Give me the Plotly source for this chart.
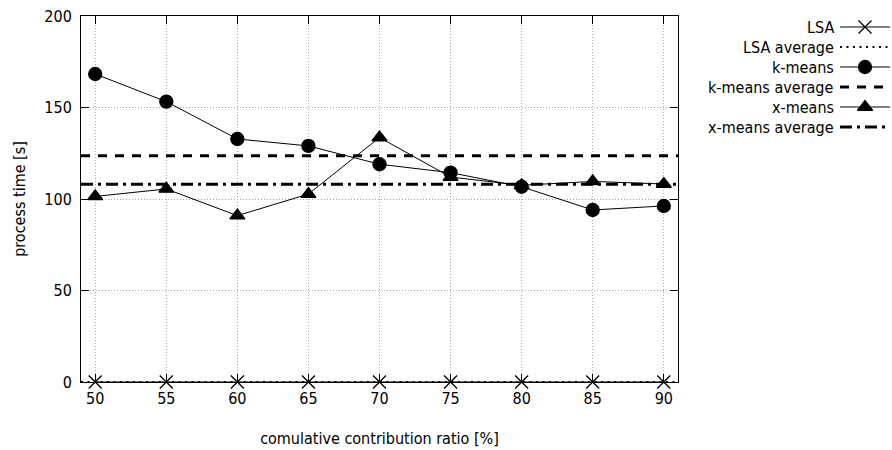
import plotly.graph_objects as go

# ---- data ----
ratio = [50, 55, 60, 65, 70, 75, 80, 85, 90]
lsa = [0, 0, 0, 0, 0, 0, 0, 0, 0]
kmeans = [168.3, 153.2, 132.8, 129.0, 119.0, 114.4, 106.7, 94.0, 96.2]
xmeans = [101.4, 105.5, 90.9, 102.7, 133.6, 112.0, 107.5, 109.6, 108.2]
lsa_avg = 0.0
kmeans_avg = 123.7
xmeans_avg = 108.0
x_ticks = [50, 55, 60, 65, 70, 75, 80, 85, 90]
y_ticks = [0, 50, 100, 150, 200]
x_range = [49, 91]
y_range = [0, 200]

FONT = "DejaVu Sans Condensed, DejaVu Sans, sans-serif"
FS = 16
W, H = 892, 450
ML, MR, MT, MB = 81, 2, 16, 68
PW = W - ML - MR
main_right = (678 - ML) / PW

fig = go.Figure()

series = [
    dict(name="LSA", kind="data", y=lsa, symbol="x-thin-open", size=13, dash="solid", width=1),
    dict(name="LSA average", kind="avg", y=lsa_avg, dash="2px,4.5px", width=2),
    dict(name="k-means", kind="data", y=kmeans, symbol="circle", size=13, dash="solid", width=1),
    dict(name="k-means average", kind="avg", y=kmeans_avg, dash="9px,8px", width=3),
    dict(name="x-means", kind="data", y=xmeans, symbol="triangle-up", size=13, dash="solid", width=1),
    dict(name="x-means average", kind="avg", y=xmeans_avg, dash="12px,5px,3px,5px", width=3),
]

for s in series:
    if s["kind"] == "data":
        fig.add_trace(go.Scatter(
            x=ratio, y=s["y"], mode="lines+markers", name=s["name"],
            line=dict(color="black", width=s["width"]),
            marker=dict(symbol=s["symbol"], size=s["size"], color="black",
                        line=dict(color="black", width=1.3)),
            cliponaxis=False, showlegend=False, xaxis="x", yaxis="y"))
    else:
        fig.add_trace(go.Scatter(
            x=x_range, y=[s["y"], s["y"]], mode="lines", name=s["name"],
            line=dict(color="black", width=s["width"], dash=s["dash"]),
            showlegend=False, xaxis="x", yaxis="y"))

# ---- custom legend (symbol sample right of right-aligned text) ----
annotations = []
for i, s in enumerate(series):
    if s["kind"] == "data":
        fig.add_trace(go.Scatter(x=[0, 1], y=[i, i], mode="lines",
                                 line=dict(color="black", width=1),
                                 showlegend=False, hoverinfo="skip",
                                 xaxis="x2", yaxis="y2", cliponaxis=False))
        fig.add_trace(go.Scatter(x=[0.5], y=[i], mode="markers",
                                 marker=dict(symbol=s["symbol"], size=s["size"], color="black",
                                             line=dict(color="black", width=1.3)),
                                 showlegend=False, hoverinfo="skip",
                                 xaxis="x2", yaxis="y2", cliponaxis=False))
    else:
        fig.add_trace(go.Scatter(x=[0, 1], y=[i, i], mode="lines",
                                 line=dict(color="black", width=s["width"], dash=s["dash"]),
                                 showlegend=False, hoverinfo="skip",
                                 xaxis="x2", yaxis="y2", cliponaxis=False))
    annotations.append(dict(x=0, y=i, xref="x2", yref="y2", text=s["name"],
                            showarrow=False, xanchor="right", yanchor="middle",
                            xshift=-4, font=dict(family=FONT, size=FS, color="black")))

axis_common = dict(showline=True, linecolor="black", linewidth=1, mirror="allticks",
                   ticks="inside", ticklen=8, tickcolor="black", tickwidth=1,
                   showgrid=True, gridcolor="#a8a8a8", gridwidth=1, griddash="1px,2px",
                   zeroline=False, tickfont=dict(family=FONT, size=FS, color="black"))

fig.update_layout(
    width=W, height=H,
    margin=dict(l=ML, r=MR, t=MT, b=MB, pad=0),
    paper_bgcolor="white", plot_bgcolor="white",
    font=dict(family=FONT, size=FS, color="black"),
    xaxis=dict(domain=[0, main_right], range=x_range, tickvals=x_ticks,
               ticklabelstandoff=2,
               title=dict(text="comulative contribution ratio [%]", standoff=25,
                          font=dict(family=FONT, size=FS)),
               anchor="y", **axis_common),
    yaxis=dict(domain=[0, 1], range=y_range, tickvals=y_ticks,
               ticklabelstandoff=5,
               title=dict(text="process time [s]", standoff=14,
                          font=dict(family=FONT, size=FS)),
               anchor="x", **axis_common),
    xaxis2=dict(domain=[(840 - ML) / PW, (890 - ML) / PW], range=[0, 1],
                visible=False, anchor="y2"),
    yaxis2=dict(domain=[0, 1], range=[17.75, -0.55], visible=False, anchor="x2"),
    annotations=annotations,
    showlegend=False,
)

fig.write_html("out.html")
